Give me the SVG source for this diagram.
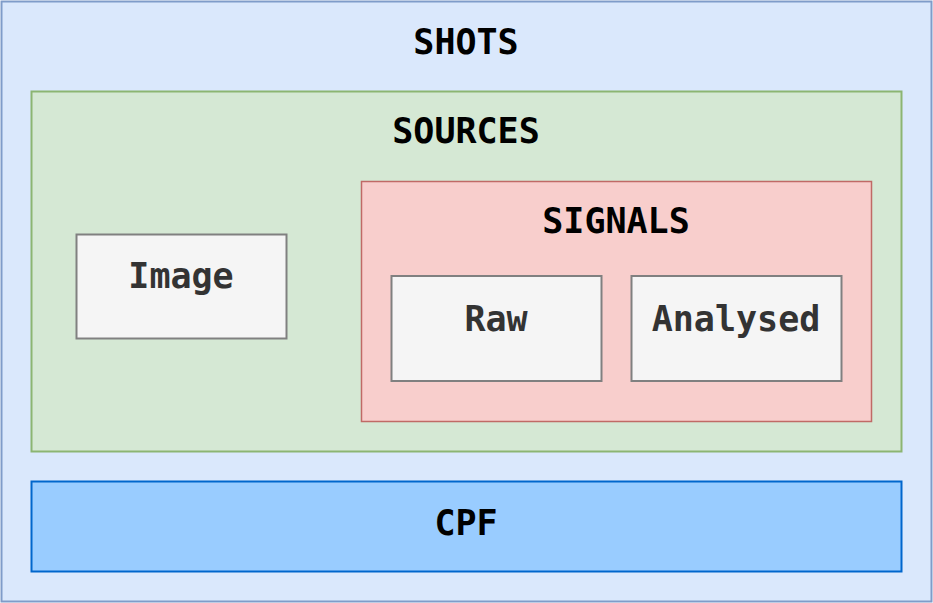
<svg xmlns="http://www.w3.org/2000/svg" width="933" height="603" viewBox="0 0 933 603">
<style>
text{font-family:"DejaVu Sans Mono","Liberation Mono",monospace;font-weight:bold;font-size:35px;text-anchor:middle}
.t{fill:#000}
.g{fill:#333}
.box{fill:#f5f5f5;stroke:#808080;stroke-width:2}
</style>
<rect width="933" height="603" fill="#ffffff"/>
<g id="shots">
<rect x="1.5" y="1.5" width="930" height="600" fill="#dae8fc" stroke="#7f9cc9" stroke-width="2"/>
<text class="t" x="466" y="54">SHOTS</text>
</g>
<g id="sources">
<rect x="31.5" y="91.5" width="870" height="360" fill="#d5e8d4" stroke="#8cb572" stroke-width="2"/>
<text class="t" x="466" y="143">SOURCES</text>
</g>
<g id="signals">
<rect x="361.5" y="181.5" width="510" height="240" fill="#f8cecc" stroke="#c06a66" stroke-width="1.5"/>
<text class="t" x="616" y="233">SIGNALS</text>
</g>
<g id="image">
<rect class="box" x="76.5" y="234.5" width="210" height="104"/>
<text class="g" x="181" y="288">Image</text>
</g>
<g id="raw">
<rect class="box" x="391.5" y="276" width="210" height="105"/>
<text class="g" x="496" y="331">Raw</text>
</g>
<g id="analysed">
<rect class="box" x="631.5" y="276" width="210" height="105"/>
<text class="g" x="736" y="331">Analysed</text>
</g>
<g id="cpf">
<rect x="31.5" y="481.5" width="870" height="90" fill="#99ccff" stroke="#0066cc" stroke-width="2"/>
<text class="t" x="466" y="535">CPF</text>
</g>
<g id="connectors"></g>
</svg>
